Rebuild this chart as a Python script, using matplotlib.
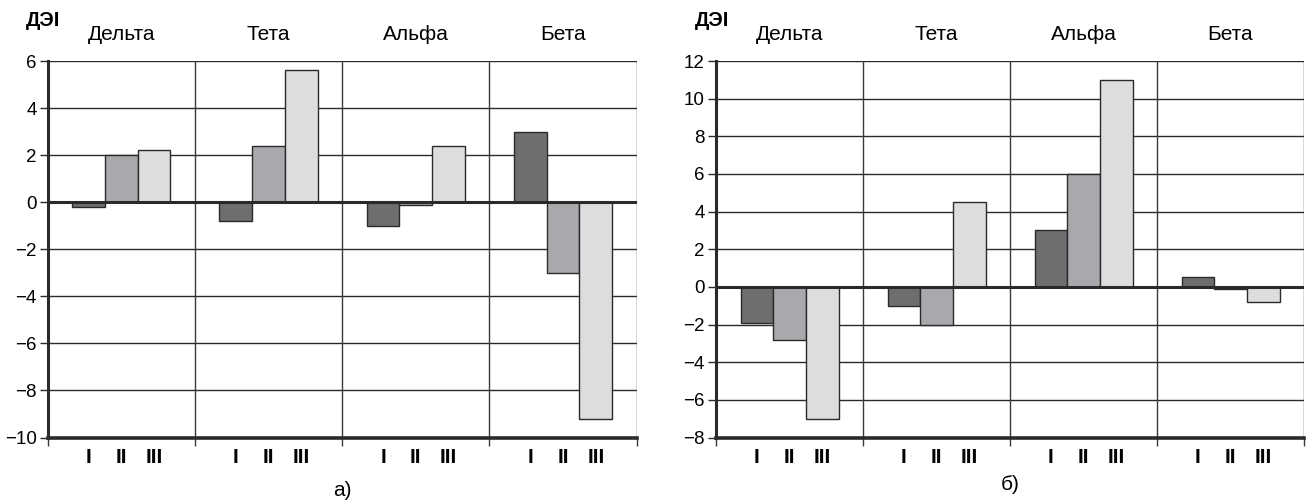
import matplotlib
matplotlib.use("Agg")
import matplotlib.pyplot as plt
import numpy as np

# ---- data ----
categories = ["Дельта", "Тета", "Альфа", "Бета"]
series_labels = ["I", "II", "III"]
# panel а)
a_I = [-0.2, -0.8, -1.0, 3.0]
a_II = [2.0, 2.4, -0.1, -3.0]
a_III = [2.2, 5.6, 2.4, -9.2]
# panel б)
b_I = [-1.9, -1.0, 3.0, 0.5]
b_II = [-2.8, -2.0, 6.0, -0.1]
b_III = [-7.0, 4.5, 11.0, -0.8]
a_yticks = [-10, -8, -6, -4, -2, 0, 2, 4, 6]
b_yticks = [-8, -6, -4, -2, 0, 2, 4, 6, 8, 10, 12]
ylabel_text = "ДЭI"
panel_labels = ["а)", "б)"]

colors = ["#6d6e70", "#a8a9ac", "#dcdddf"]
edge = "#2a2a2a"

plt.rcParams['font.family'] = ['Liberation Sans', 'DejaVu Sans']

fig = plt.figure(figsize=(13.08, 5.03), dpi=100)
W, H = 1308, 503

def make_panel(x0, x1, series, yticks, plabel, plabel_y):
    top, bottom = 61, 437.5
    ax = fig.add_axes([x0 / W, 1 - bottom / H, (x1 - x0) / W, (bottom - top) / H])
    n = len(categories)
    bw = 1 / 4.5
    for k, vals in enumerate(series):
        xs = np.arange(n) + (1.25 + k) / 4.5
        ax.bar(xs, vals, width=bw, color=colors[k], edgecolor=edge, linewidth=1.0, zorder=3)
    ax.set_xlim(0, n)
    ax.set_ylim(yticks[0], yticks[-1])
    ax.set_yticks(yticks)
    ax.set_yticklabels([f"{t}".replace("-", "\u2212") for t in yticks], fontsize=13.5)
    for t in yticks:
        if t == 0:
            continue
        ax.axhline(t, color="#2a2a2a", linewidth=1.0, zorder=1)
    ax.axhline(0, color="#2a2a2a", linewidth=2.2, zorder=4)
    for g in range(1, n + 1):
        ax.axvline(g, color="#3a3a3a", linewidth=1.0, zorder=1)
    ax.set_xticks(np.arange(0, n + 1))
    ax.set_xticklabels([])
    ax.tick_params(axis="x", direction="out", length=6, width=1.0, color="#3a3a3a")
    ax.tick_params(axis="y", direction="out", length=6, width=1.0, color="#2a2a2a", pad=2)
    trans = ax.get_xaxis_transform()
    for g in range(n):
        for k, lab in enumerate(series_labels):
            ax.text(g + (1.25 + k) / 4.5, -20 / (bottom - top), lab, transform=trans,
                    ha="center", va="center", fontsize=15, fontweight="bold",
                    family=['Liberation Sans Narrow', 'Liberation Sans'])
    for g, c in enumerate(categories):
        ax.text(g + 0.5, 1 + 26 / (bottom - top), c, transform=trans,
                ha="center", va="center", fontsize=15)
    for s in ["top", "right"]:
        ax.spines[s].set_visible(False)
    ax.spines["left"].set_linewidth(2.2)
    ax.spines["left"].set_color("#2a2a2a")
    ax.spines["bottom"].set_linewidth(2.6)
    ax.spines["bottom"].set_color("#2a2a2a")
    ax.spines["left"].set_zorder(5)
    ax.spines["bottom"].set_zorder(5)
    fig.text((x0 + x1) / 2 / W, 1 - plabel_y / H, plabel, ha="center", va="center", fontsize=15)
    fig.text((x0 - 21.5) / W, 1 - 20 / H, ylabel_text, ha="left", va="center",
             fontsize=14.5, fontweight="bold")
    return ax

make_panel(47.7, 636.7, [a_I, a_II, a_III], a_yticks, panel_labels[0], 490)
make_panel(716, 1304, [b_I, b_II, b_III], b_yticks, panel_labels[1], 485)

fig.savefig("out.png", dpi=100)
